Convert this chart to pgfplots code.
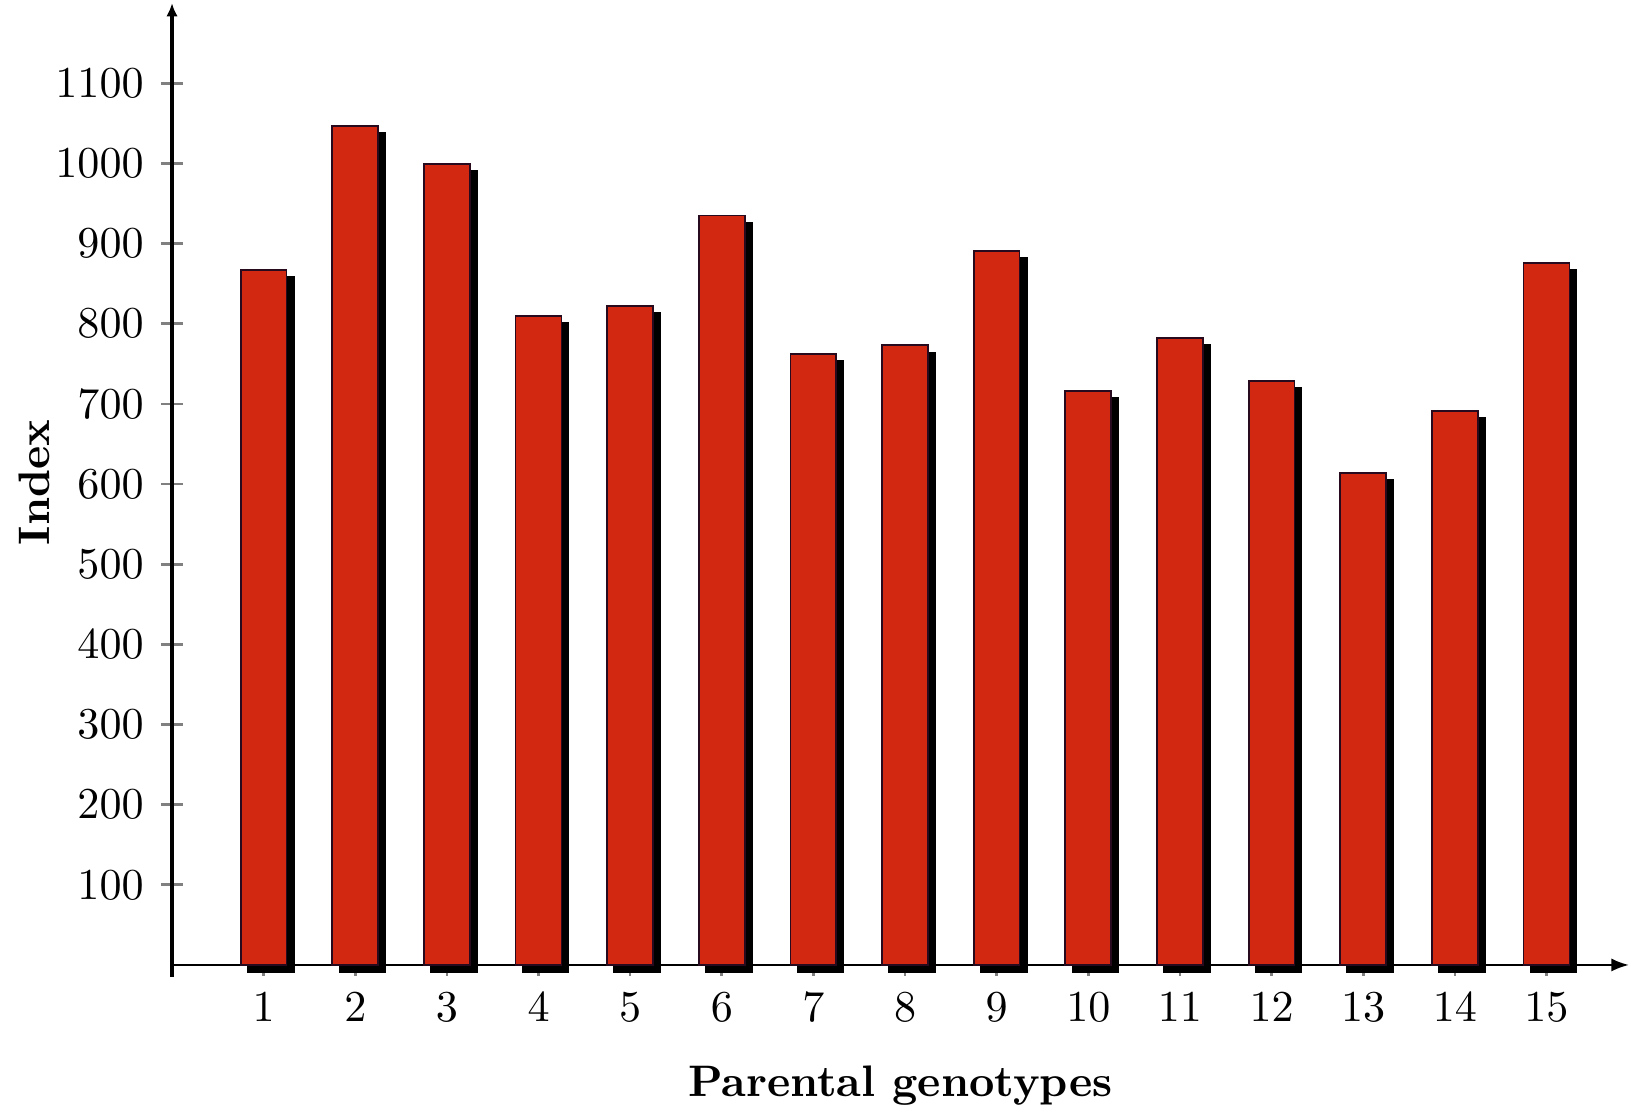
\documentclass[border=0pt]{standalone}
\usepackage{pgfplots}
\pgfplotsset{compat=1.18}
\usetikzlibrary{arrows.meta}
\definecolor{barred}{RGB}{210,40,18}
\definecolor{baredge}{RGB}{40,10,30}
\begin{document}
\begin{tikzpicture}
\useasboundingbox (0,0) rectangle (370pt,252.1pt);
\begin{axis}[
  at={(39pt,30.6pt)}, anchor=south west,
  scale only axis, width=330.3pt, height=220.8pt,
  xmin=0, xmax=15.9, ymin=-15, ymax=1200,
  axis x line=middle, axis y line=left,
  every axis x label/.style={at={(axis description cs:0.5,-0.123)}, anchor=base},
  every axis y label/.style={at={(axis description cs:-0.0839,0.508)}, rotate=90, anchor=base},
  xlabel={\textbf{Parental genotypes}},
  ylabel={\textbf{Index}},
  x axis line style={-{Latex[length=4pt,width=3pt]}, line width=0.5pt, black},
  y axis line style={-{Latex[length=3pt,width=2.6pt]}, line width=1.1pt, black},
  xtick={1,...,15},
  ytick={100,200,...,1100},
  /pgf/number format/1000 sep={},
  tick align=center,
  major tick length=5pt,
  tick style={gray, line width=0.6pt},
  xticklabel style={yshift=-0.4pt},
  yticklabel style={xshift=-0.4pt},
]
\addplot[ybar, bar width=10.4pt, bar shift=0pt, fill=black, draw=black, xshift=1.6pt, yshift=-1.6pt]
  coordinates {(1,867) (2,1047) (3,999) (4,810) (5,822) (6,935) (7,762) (8,773) (9,891) (10,716) (11,782) (12,729) (13,614) (14,691) (15,876)};
\addplot[ybar, bar width=10.4pt, bar shift=0pt, fill=barred, draw=baredge, line width=0.4pt]
  coordinates {(1,867) (2,1047) (3,999) (4,810) (5,822) (6,935) (7,762) (8,773) (9,891) (10,716) (11,782) (12,729) (13,614) (14,691) (15,876)};
\end{axis}
\end{tikzpicture}
\end{document}
